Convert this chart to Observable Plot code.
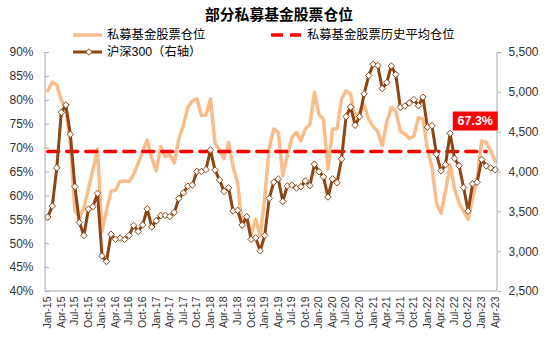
<!DOCTYPE html>
<html><head><meta charset="utf-8">
<script src="https://cdn.jsdelivr.net/npm/d3@7"></script>
<script src="https://cdn.jsdelivr.net/npm/@observablehq/plot@0.6"></script>
<style>
body{margin:0;background:#fff;}
#wrap{position:relative;width:550px;height:346px;overflow:hidden;}
#overlay{position:absolute;left:0;top:0;pointer-events:none;}
</style></head>
<body><div id="wrap"></div>
<script>
const FONT = '"Liberation Sans", Arial, "Noto Sans CJK SC", sans-serif';
const title = "部分私募基金股票仓位";
const seriesNames = ["私募基金股票仓位", "私募基金股票历史平均仓位", "沪深300（右轴）"];

const months = ["Jan-15","Feb-15","Mar-15","Apr-15","May-15","Jun-15","Jul-15","Aug-15","Sep-15","Oct-15","Nov-15","Dec-15",
"Jan-16","Feb-16","Mar-16","Apr-16","May-16","Jun-16","Jul-16","Aug-16","Sep-16","Oct-16","Nov-16","Dec-16",
"Jan-17","Feb-17","Mar-17","Apr-17","May-17","Jun-17","Jul-17","Aug-17","Sep-17","Oct-17","Nov-17","Dec-17",
"Jan-18","Feb-18","Mar-18","Apr-18","May-18","Jun-18","Jul-18","Aug-18","Sep-18","Oct-18","Nov-18","Dec-18",
"Jan-19","Feb-19","Mar-19","Apr-19","May-19","Jun-19","Jul-19","Aug-19","Sep-19","Oct-19","Nov-19","Dec-19",
"Jan-20","Feb-20","Mar-20","Apr-20","May-20","Jun-20","Jul-20","Aug-20","Sep-20","Oct-20","Nov-20","Dec-20",
"Jan-21","Feb-21","Mar-21","Apr-21","May-21","Jun-21","Jul-21","Aug-21","Sep-21","Oct-21","Nov-21","Dec-21",
"Jan-22","Feb-22","Mar-22","Apr-22","May-22","Jun-22","Jul-22","Aug-22","Sep-22","Oct-22","Nov-22","Dec-22",
"Jan-23","Feb-23","Mar-23","Apr-23"];

// 私募基金股票仓位 (%)
const privateFund = [82.0,83.8,83.2,80.0,78.0,71.0,57.0,55.5,57.5,61.5,65.5,69.8,
52.5,57.0,61.0,61.2,63.0,63.1,63.0,64.5,66.8,69.4,71.7,68.0,
65.2,70.3,68.2,68.6,66.9,71.9,74.7,78.5,79.9,80.3,76.8,76.9,
80.3,71.0,69.6,67.8,71.2,66.0,62.8,53.5,56.0,51.8,55.1,51.6,
59.6,70.1,74.0,73.3,64.2,68.5,72.2,73.3,71.5,74.0,75.0,81.7,
77.0,76.0,65.6,74.0,74.0,80.3,82.0,81.3,76.5,77.5,79.0,76.0,
74.5,73.5,70.5,75.5,78.5,77.8,73.5,73.0,72.0,72.5,76.4,76.0,
69.8,66.0,58.5,56.4,61.0,66.6,61.5,58.5,56.8,55.1,59.6,63.5,
71.5,71.2,69.4,67.3];

// 沪深300 month-end
const hs300 = [3434,3572,4052,4749,4841,4473,3816,3366,3203,3534,3566,3731,
2946,2877,3218,3157,3170,3154,3204,3328,3253,3336,3538,3310,
3388,3453,3456,3440,3493,3667,3738,3822,3837,4007,4006,4031,
4276,4024,3899,3757,3802,3511,3518,3335,3439,3154,3173,3011,
3202,3669,3872,3913,3630,3826,3835,3800,3815,3887,3829,4097,
4004,3940,3686,3913,3867,4164,4695,4816,4587,4695,4981,5211,
5352,5337,5048,5123,5331,5224,4811,4828,4866,4909,4832,4940,
4564,4582,4223,4016,4091,4485,4170,4079,3805,3509,3853,3872,
4157,4078,4051,4029];

const avgPosition = 69.3;
const avgEndMonth = "Feb-23";

const xTickLabels = ["Jan-15","Apr-15","Jul-15","Oct-15","Jan-16","Apr-16","Jul-16","Oct-16","Jan-17","Apr-17","Jul-17","Oct-17",
"Jan-18","Apr-18","Jul-18","Oct-18","Jan-19","Apr-19","Jul-19","Oct-19","Jan-20","Apr-20","Jul-20","Oct-20",
"Jan-21","Apr-21","Jul-21","Oct-21","Jan-22","Apr-22","Jul-22","Oct-22","Jan-23","Apr-23"];
const leftTicks = [40,45,50,55,60,65,70,75,80,85,90];
const rightTicks = [2500,3000,3500,4000,4500,5000,5500];

const COL_LIGHT = "#F8BD8B", COL_BROWN = "#8C4513", COL_RED = "#FF0000", COL_AXIS = "#A6A6A6", COL_TEXT = "#333";

// right-axis mapping onto the left (%) scale
const R0 = 2500, R1 = 5500, L0 = 40, L1 = 90;
const toPct = v => L0 + (v - R0) / (R1 - R0) * (L1 - L0);
const fromPct = p => R0 + (p - L0) / (L1 - L0) * (R1 - R0);

const pfData = months.map((m, i) => ({m, v: privateFund[i]}));
const hsData = months.map((m, i) => ({m, v: hs300[i]}));
const avgData = months.slice(0, months.indexOf(avgEndMonth) + 1).map(m => ({m, v: avgPosition}));

const diamond = {
  draw(ctx, size) {
    const h = Math.sqrt(size / 2);
    ctx.moveTo(0, -h); ctx.lineTo(h, 0); ctx.lineTo(0, h); ctx.lineTo(-h, 0); ctx.closePath();
  }
};

const chart = Plot.plot({
  width: 550, height: 346,
  marginLeft: 45, marginRight: 53, marginTop: 52, marginBottom: 55,
  style: {fontFamily: FONT, fontSize: "12px", color: COL_TEXT, background: "transparent"},
  x: {type: "point", domain: months, padding: 0.5},
  y: {domain: [L0, L1]},
  marks: [
    Plot.axisY({anchor: "left", ticks: leftTicks, tickSize: 4, dx: 4, tickFormat: () => "", stroke: COL_AXIS, label: null}),
    Plot.axisY({anchor: "left", ticks: leftTicks, tickSize: 0, tickPadding: 12, tickFormat: d => d + "%", fontSize: 12, fill: COL_TEXT, label: null}),
    Plot.axisY({anchor: "right", ticks: rightTicks.map(toPct), tickSize: 3, tickPadding: 8, stroke: COL_AXIS,
      tickFormat: p => d3.format(",")(Math.round(fromPct(p))), fontSize: 12, fill: COL_TEXT, label: null}),
    Plot.axisX({anchor: "bottom", ticks: xTickLabels, tickRotate: -90, tickSize: 0, tickPadding: 5, fontSize: 10.5, fill: COL_TEXT, label: null}),
    Plot.line(pfData, {x: "m", y: "v", stroke: COL_LIGHT, strokeWidth: 3.5, strokeLinejoin: "round"}),
    Plot.line(avgData, {x: "m", y: "v", stroke: COL_RED, strokeWidth: 3.5, strokeDasharray: "11,8"}),
    Plot.line(hsData, {x: "m", y: d => toPct(d.v), stroke: COL_BROWN, strokeWidth: 3, strokeLinejoin: "round"}),
    Plot.dot(hsData, {x: "m", y: d => toPct(d.v), symbol: diamond, r: 2.6, fill: "white", stroke: COL_BROWN, strokeWidth: 1})
  ]
});

const wrap = document.getElementById("wrap");
wrap.appendChild(chart);

// frame lines and last-value label, positioned through the plot's scales
const NS = "http://www.w3.org/2000/svg";
const sx = chart.scale("x"), sy = chart.scale("y");
const [xl, xr] = sx.range;
const [yb, yt] = sy.range;
function line(x1, y1, x2, y2, stroke, w) {
  const l = document.createElementNS(NS, "line");
  l.setAttribute("x1", x1); l.setAttribute("y1", y1); l.setAttribute("x2", x2); l.setAttribute("y2", y2);
  l.setAttribute("stroke", stroke); l.setAttribute("stroke-width", w);
  chart.appendChild(l); return l;
}
line(xl, yt, xl, yb, COL_AXIS, 1);
line(xr, yt, xr, yb, COL_AXIS, 1);
line(xl, yb, xr, yb, COL_AXIS, 1);

const lastIdx = months.length - 1;
const px = sx.apply(months[lastIdx]), py = sy.apply(privateFund[lastIdx]);
const box = document.createElementNS(NS, "rect");
box.setAttribute("x", px - 42); box.setAttribute("y", py - 49);
box.setAttribute("width", 45); box.setAttribute("height", 19);
box.setAttribute("fill", COL_RED);
chart.appendChild(box);
const lbl = document.createElementNS(NS, "text");
lbl.setAttribute("x", px - 19.5); lbl.setAttribute("y", py - 39.5);
lbl.setAttribute("text-anchor", "middle"); lbl.setAttribute("dominant-baseline", "central");
lbl.setAttribute("fill", "#fff"); lbl.setAttribute("font-weight", "bold"); lbl.setAttribute("font-size", "12.5");
lbl.setAttribute("font-family", FONT);
lbl.textContent = privateFund[lastIdx].toFixed(1) + "%";
chart.appendChild(lbl);

// title + legend overlay
const ov = d3.select(wrap).append("svg").attr("id", "overlay").attr("width", 550).attr("height", 62)
  .style("font-family", FONT);
ov.append("text").attr("x", 279).attr("y", 15).attr("text-anchor", "middle").attr("dominant-baseline", "central")
  .attr("font-size", 14.8).attr("font-weight", "bold").attr("fill", "#000").text(title);
ov.append("line").attr("x1", 73).attr("x2", 102).attr("y1", 35).attr("y2", 35).attr("stroke", COL_LIGHT).attr("stroke-width", 3.5);
ov.append("text").attr("x", 107).attr("y", 35).attr("dominant-baseline", "central").attr("font-size", 12.3).attr("fill", "#000").text(seriesNames[0]);
ov.append("line").attr("x1", 271).attr("x2", 301).attr("y1", 35).attr("y2", 35).attr("stroke", COL_RED).attr("stroke-width", 3.5).attr("stroke-dasharray", "12,7");
ov.append("text").attr("x", 307).attr("y", 35).attr("dominant-baseline", "central").attr("font-size", 12.3).attr("fill", "#000").text(seriesNames[1]);
ov.append("line").attr("x1", 73).attr("x2", 102).attr("y1", 52).attr("y2", 52).attr("stroke", COL_BROWN).attr("stroke-width", 3);
ov.append("path").attr("d", d3.symbol(diamond, Math.PI * 2.6 * 2.6)()).attr("transform", "translate(89,52)")
  .attr("fill", "white").attr("stroke", COL_BROWN).attr("stroke-width", 1);
ov.append("text").attr("x", 107).attr("y", 52).attr("dominant-baseline", "central").attr("font-size", 12.3).attr("fill", "#000").text(seriesNames[2]);
</script>
</body></html>
